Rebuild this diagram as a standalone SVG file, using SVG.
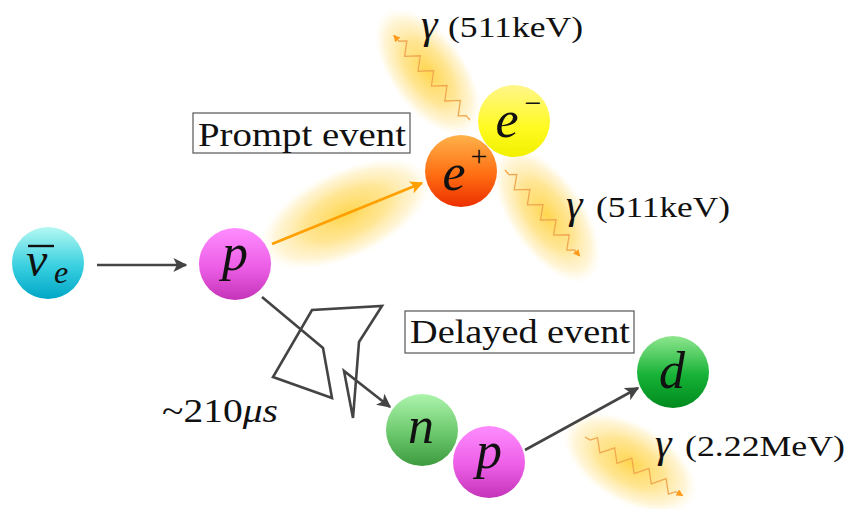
<svg xmlns="http://www.w3.org/2000/svg" width="848" height="509" viewBox="0 0 848 509">
  <style>
    .lbl { font-family: "Liberation Serif", "DejaVu Serif", serif; fill: #111; }
    .math { font-family: "Liberation Serif", "DejaVu Serif", serif; font-style: italic; fill: #111; }
    .box { fill: #fff; stroke: #555; stroke-width: 1.2; }
    .conn { fill: none; stroke: #444; stroke-width: 2.6; }
    .wave { fill: none; stroke: #f0a850; stroke-width: 1.3; stroke-linejoin: miter; }
  </style>
  <defs>
    <radialGradient id="glow" cx="0.5" cy="0.5" r="0.5">
      <stop offset="0" stop-color="#ffd23c" stop-opacity="0.9"/>
      <stop offset="0.5" stop-color="#ffdb68" stop-opacity="0.7"/>
      <stop offset="0.82" stop-color="#ffe9a6" stop-opacity="0.45"/>
      <stop offset="1" stop-color="#fff4d2" stop-opacity="0"/>
    </radialGradient>
    <linearGradient id="gNu" x1="0" y1="0" x2="0" y2="1">
      <stop offset="0" stop-color="#b4f8f2"/>
      <stop offset="0.55" stop-color="#38cfe0"/>
      <stop offset="1" stop-color="#00a6c6"/>
    </linearGradient>
    <linearGradient id="gP" x1="0" y1="0" x2="0" y2="1">
      <stop offset="0" stop-color="#ff8cff"/>
      <stop offset="0.55" stop-color="#ec5ee6"/>
      <stop offset="1" stop-color="#c433b8"/>
    </linearGradient>
    <linearGradient id="gEp" x1="0" y1="0" x2="0" y2="1">
      <stop offset="0" stop-color="#ffb24a"/>
      <stop offset="0.55" stop-color="#ff6e12"/>
      <stop offset="1" stop-color="#ec2f00"/>
    </linearGradient>
    <linearGradient id="gEm" x1="0" y1="0" x2="0" y2="1">
      <stop offset="0" stop-color="#fff68a"/>
      <stop offset="0.6" stop-color="#fffa20"/>
      <stop offset="1" stop-color="#f2f000"/>
    </linearGradient>
    <linearGradient id="gN" x1="0" y1="0" x2="0" y2="1">
      <stop offset="0" stop-color="#acf4ac"/>
      <stop offset="0.55" stop-color="#6cc86c"/>
      <stop offset="1" stop-color="#3e9a3e"/>
    </linearGradient>
    <linearGradient id="gD" x1="0" y1="0" x2="0" y2="1">
      <stop offset="0" stop-color="#8ee68e"/>
      <stop offset="0.55" stop-color="#16b236"/>
      <stop offset="1" stop-color="#008a1e"/>
    </linearGradient>
    <marker id="arrDark" viewBox="0 0 10 10" refX="9" refY="5" markerWidth="14" markerHeight="14" markerUnits="userSpaceOnUse" orient="auto">
      <path d="M0 0 L10 5 L0 10 L2.5 5 Z" fill="#444"/>
    </marker>
    <marker id="arrOrange" viewBox="0 0 10 10" refX="9" refY="5" markerWidth="13" markerHeight="13" markerUnits="userSpaceOnUse" orient="auto">
      <path d="M0 0 L10 5 L0 10 L2.5 5 Z" fill="#ffa000"/>
    </marker>
    <marker id="arrWave" viewBox="0 0 10 10" refX="9" refY="5" markerWidth="7" markerHeight="7" markerUnits="userSpaceOnUse" orient="auto">
      <path d="M0 0 L10 5 L0 10 Z" fill="#ff9a1a"/>
    </marker>
    <!-- zigzag photon line drawn along +x, length ~114 -->
    <path id="zig" d="M0 0 l6 0 l5 -6 l10 12 l10 -12 l10 12 l10 -12 l10 12 l10 -12 l10 12 l10 -12 l10 12 l5 -6 l8 0"/>
  </defs>

  <!-- soft glows -->
  <g id="glows">
    <ellipse cx="428" cy="72" rx="74" ry="38" fill="url(#glow)" transform="rotate(54 428 72)"/>
    <ellipse cx="547" cy="215" rx="78" ry="38" fill="url(#glow)" transform="rotate(56 547 215)"/>
    <ellipse cx="346" cy="214" rx="92" ry="44" fill="url(#glow)" transform="rotate(-25 346 214)"/>
    <ellipse cx="630" cy="463" rx="74" ry="40" fill="url(#glow)" transform="rotate(30 630 463)"/>
  </g>

  <!-- photon lines -->
  <g id="photons">
    <use href="#zig" class="wave" marker-end="url(#arrWave)" transform="translate(470 120) rotate(228)"/>
    <use href="#zig" class="wave" marker-end="url(#arrWave)" transform="translate(505 170) rotate(49)"/>
    <use href="#zig" class="wave" marker-end="url(#arrWave)" transform="translate(585 437) rotate(31)"/>
  </g>

  <!-- connectors -->
  <g id="connectors">
    <line class="conn" x1="97" y1="265" x2="186" y2="265" marker-end="url(#arrDark)"/>
    <line x1="272" y1="244" x2="422" y2="183" stroke="#ffa000" stroke-width="2.6" marker-end="url(#arrOrange)"/>
    <polyline class="conn" points="262,297 323,348 332,398 273,377 312,310 382,306 359,342 353,418 344,371 390,407" stroke-linejoin="miter" marker-end="url(#arrDark)"/>
    <line class="conn" x1="525" y1="450" x2="638" y2="388" marker-end="url(#arrDark)"/>
  </g>

  <!-- particles -->
  <g id="nu">
    <circle cx="48" cy="263" r="36" fill="url(#gNu)"/>
    <text class="math" x="26" y="276" font-size="48" font-family="'DejaVu Serif', serif">ν</text>
    <line x1="28" y1="246" x2="54" y2="246" stroke="#111" stroke-width="2.4"/>
    <text class="math" x="54" y="283" font-size="32">e</text>
  </g>
  <g id="p1">
    <circle cx="235" cy="264" r="36" fill="url(#gP)"/>
    <text class="math" x="235" y="270" font-size="52" text-anchor="middle">p</text>
  </g>
  <g id="eminus">
    <circle cx="514" cy="121" r="36" fill="url(#gEm)"/>
    <text class="math" x="507" y="137" font-size="52" text-anchor="middle">e</text>
    <text class="lbl" x="533" y="113" font-size="30" text-anchor="middle">−</text>
  </g>
  <g id="eplus">
    <circle cx="461" cy="171" r="36" fill="url(#gEp)"/>
    <text class="math" x="454" y="190" font-size="52" text-anchor="middle">e</text>
    <text class="lbl" x="479" y="166" font-size="30" text-anchor="middle">+</text>
  </g>
  <g id="n">
    <circle cx="422" cy="430" r="36" fill="url(#gN)"/>
    <text class="math" x="421" y="443" font-size="52" text-anchor="middle">n</text>
  </g>
  <g id="p2">
    <circle cx="489" cy="462" r="36" fill="url(#gP)"/>
    <text class="math" x="489" y="468" font-size="52" text-anchor="middle">p</text>
  </g>
  <g id="d">
    <circle cx="673" cy="372" r="36" fill="url(#gD)"/>
    <text class="math" x="672" y="388" font-size="52" text-anchor="middle">d</text>
  </g>

  <!-- event boxes -->
  <g id="prompt">
    <rect class="box" x="193" y="113" width="217" height="40"/>
    <text class="lbl" x="198" y="146" font-size="34" textLength="208" lengthAdjust="spacingAndGlyphs">Prompt event</text>
  </g>
  <g id="delayed">
    <rect class="box" x="405" y="311" width="229" height="42"/>
    <text class="lbl" x="410" y="343" font-size="34" textLength="220" lengthAdjust="spacingAndGlyphs">Delayed event</text>
  </g>

  <!-- photon energy labels -->
  <g id="gamma1">
    <text class="math" x="421" y="38" font-size="42">γ</text>
    <text class="lbl" x="448" y="37" font-size="30" textLength="135" lengthAdjust="spacingAndGlyphs">(511keV)</text>
  </g>
  <g id="gamma2">
    <text class="math" x="566" y="218" font-size="42">γ</text>
    <text class="lbl" x="596" y="217" font-size="30" textLength="134" lengthAdjust="spacingAndGlyphs">(511keV)</text>
  </g>
  <g id="gamma3">
    <text class="math" x="655" y="457" font-size="42">γ</text>
    <text class="lbl" x="685" y="456" font-size="30" textLength="160" lengthAdjust="spacingAndGlyphs">(2.22MeV)</text>
  </g>

  <g id="time">
    <text x="162" y="422" font-size="33" textLength="116" lengthAdjust="spacingAndGlyphs"><tspan class="lbl">~210</tspan><tspan class="math">μs</tspan></text>
  </g>
</svg>
